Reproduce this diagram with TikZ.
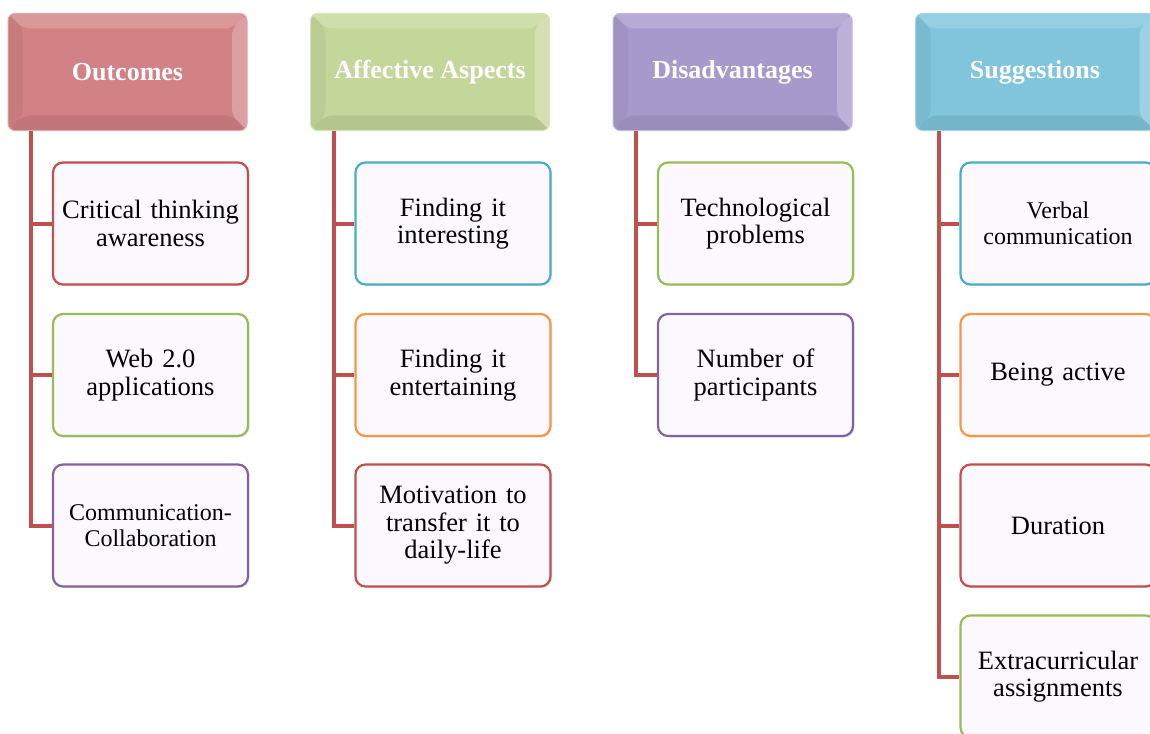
\documentclass[tikz,border=0pt]{standalone}
\usepackage{fontspec}
\setmainfont{Liberation Serif}
\usetikzlibrary{calc,shadows}
\definecolor{linkred}{HTML}{C0504D}
\definecolor{bred}{HTML}{C0504D}
\definecolor{bgreen}{HTML}{9BBB59}
\definecolor{bpurple}{HTML}{8064A2}
\definecolor{bblue}{HTML}{4BACC6}
\definecolor{borange}{HTML}{F79646}
\definecolor{hred}{HTML}{D28284}
\definecolor{hgreen}{HTML}{C4D79B}
\definecolor{hpurple}{HTML}{A899CC}
\definecolor{hblue}{HTML}{80C5DB}
\definecolor{boxfill}{HTML}{FBF9FD}
\tikzset{
  header/.style={rounded corners=7pt, minimum width=239pt, minimum height=117pt,
    fill=#1, draw=#1!70!white, line width=1pt, text=white,
    font=\fontsize{26}{30}\selectfont\bfseries,
    path picture={
      \fill[white,opacity=.18] (path picture bounding box.north west) -- (path picture bounding box.north east)
        -- ([shift={(-15,15)}]path picture bounding box.north east) -- ([shift={(15,15)}]path picture bounding box.north west) -- cycle;
      \fill[white,opacity=.24] (path picture bounding box.north east) -- (path picture bounding box.south east)
        -- ([shift={(-15,-15)}]path picture bounding box.south east) -- ([shift={(-15,15)}]path picture bounding box.north east) -- cycle;
      \fill[black,opacity=.08] (path picture bounding box.south west) -- (path picture bounding box.south east)
        -- ([shift={(-15,-15)}]path picture bounding box.south east) -- ([shift={(15,-15)}]path picture bounding box.south west) -- cycle;
      \fill[black,opacity=.05] (path picture bounding box.north west) -- (path picture bounding box.south west)
        -- ([shift={(15,-15)}]path picture bounding box.south west) -- ([shift={(15,15)}]path picture bounding box.north west) -- cycle;
    }},
  item/.style={rounded corners=10pt, minimum width=195pt, minimum height=122pt,
    text width=182pt, align=center, fill=boxfill, draw=#1, line width=2.2pt,
    font=\fontsize{26.5}{27.5}\selectfont,
    drop shadow={opacity=.18, shadow xshift=1.5pt, shadow yshift=-1.5pt}},
  small/.style={font=\fontsize{24}{25.5}\selectfont},
  link/.style={draw=linkred, line width=4pt}
}
\begin{document}
\begin{tikzpicture}[x=1pt,y=-1pt]
\useasboundingbox (0,0) rectangle (1150,733);
\clip (0,0) rectangle (1150,733);

% column headers
\node[header=hred]    (h1) at (127.5,72) {Outcomes};
\node[header=hgreen]  (h2) at (430,72)   {Affective Aspects};
\node[header=hpurple] (h3) at (732.5,72) {Disadvantages};
\node[header=hblue]   (h4) at (1035,72)  {Suggestions};

% items of each column
\node[item=bred]    (a1) at (150.5,223.5) {Critical thinking\\awareness};
\node[item=bgreen]  (a2) at (150.5,375)   {Web 2.0\\applications};
\node[item=bpurple,small] (a3) at (150.5,525.5) {Communication-\\Collaboration};

\node[item=bblue]   (b1) at (453,223.5) {Finding it\\interesting};
\node[item=borange] (b2) at (453,375)   {Finding it\\entertaining};
\node[item=bred]    (b3) at (453,525.5) {Motivation to\\transfer it to\\daily-life};

\node[item=bgreen]  (c1) at (755.5,223.5) {Technological\\problems};
\node[item=bpurple] (c2) at (755.5,375)   {Number of\\participants};

\node[item=bblue,small] (d1) at (1058,223.5) {Verbal\\communication};
\node[item=borange] (d2) at (1058,375)   {Being active};
\node[item=bred]    (d3) at (1058,525.5) {Duration};
\node[item=bgreen]  (d4) at (1058,676.5) {Extracurricular\\assignments};

% trunk start points under each header
\coordinate (t1) at ($(h1.south west)+(23,0)$);
\coordinate (t2) at ($(h2.south west)+(23.5,0)$);
\coordinate (t3) at ($(h3.south west)+(23.5,0)$);
\coordinate (t4) at ($(h4.south west)+(23.5,0)$);

% connectors: one trunk per column, one branch per item
\draw[link] (t1) |- (a3.west);
\draw[link] (t1 |- a1.west) -- (a1.west);
\draw[link] (t1 |- a2.west) -- (a2.west);

\draw[link] (t2) |- (b3.west);
\draw[link] (t2 |- b1.west) -- (b1.west);
\draw[link] (t2 |- b2.west) -- (b2.west);

\draw[link] (t3) |- (c2.west);
\draw[link] (t3 |- c1.west) -- (c1.west);

\draw[link] (t4) |- (d4.west);
\draw[link] (t4 |- d1.west) -- (d1.west);
\draw[link] (t4 |- d2.west) -- (d2.west);
\draw[link] (t4 |- d3.west) -- (d3.west);
\end{tikzpicture}
\end{document}
